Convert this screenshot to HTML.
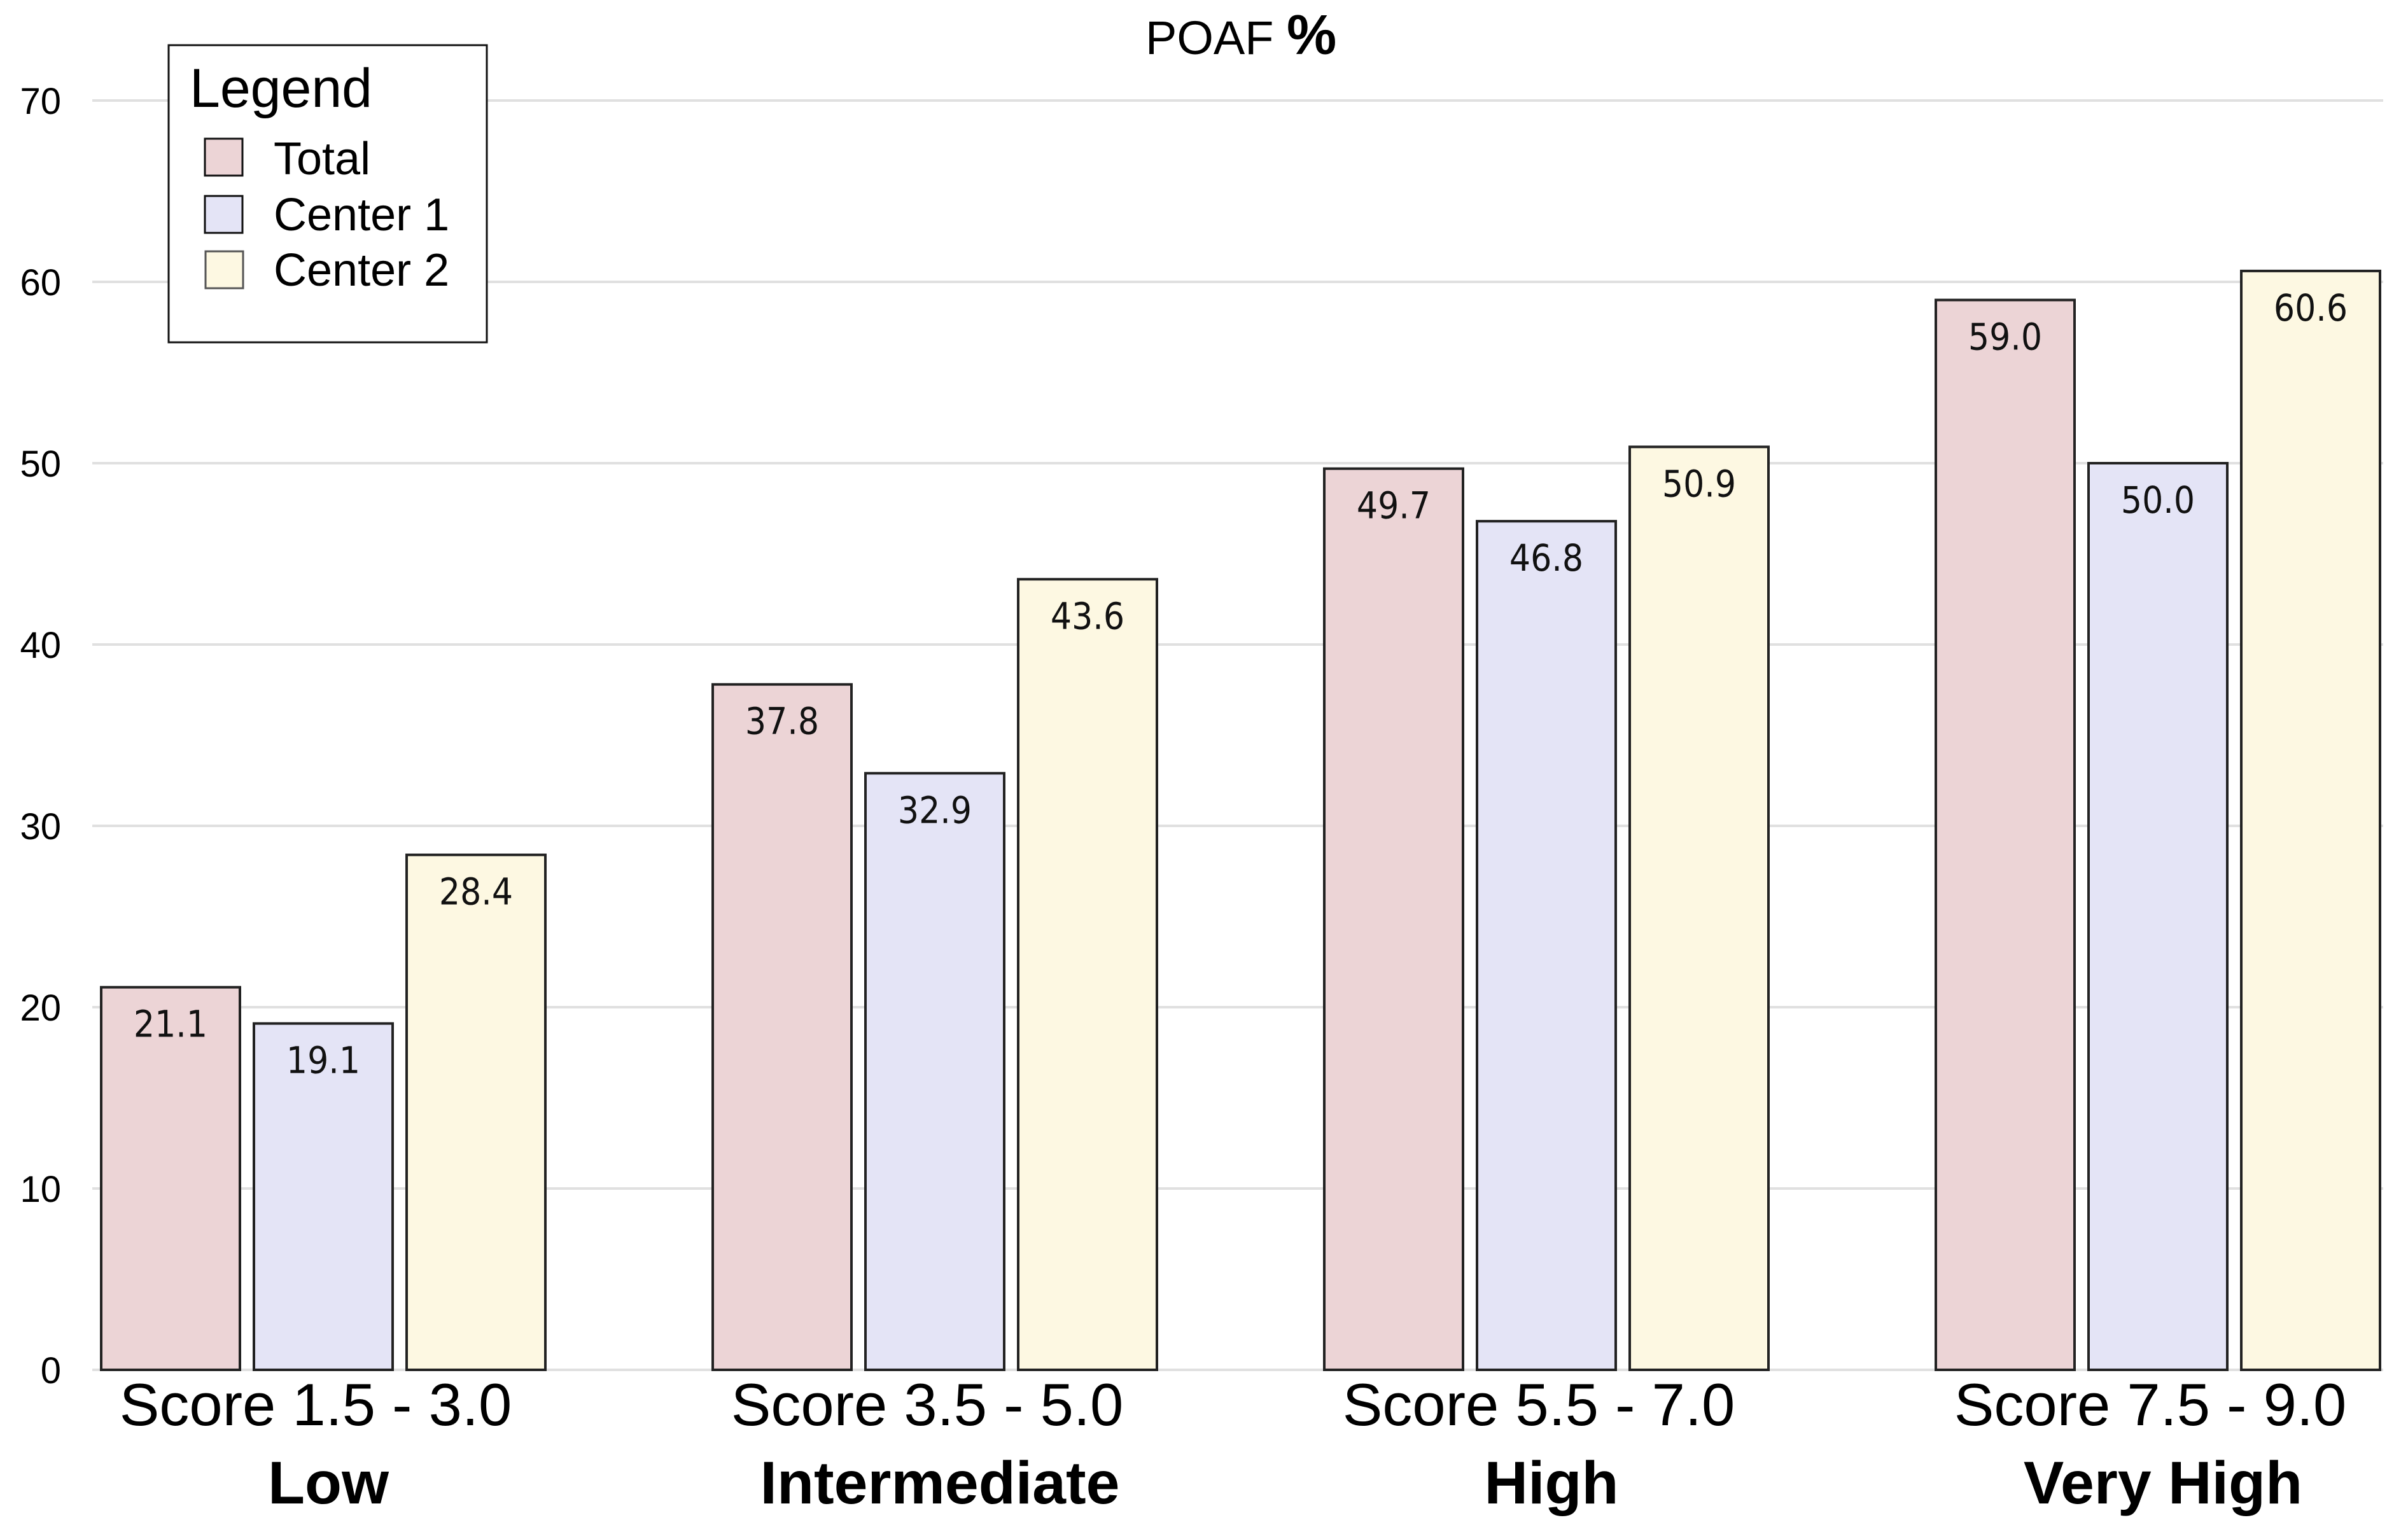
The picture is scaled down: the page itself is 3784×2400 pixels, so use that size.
<!DOCTYPE html>
<html><head><meta charset="utf-8"><style>
html,body{margin:0;padding:0;background:#fff;}
svg{display:block;}
</style></head><body>
<svg id="chart" width="3784" height="2400" viewBox="0 0 3784 2400" xmlns="http://www.w3.org/2000/svg" font-family="Liberation Sans, Arial, sans-serif">
<text x="1800" y="85" font-size="74" fill="#000">POAF <tspan font-weight="bold" font-size="88">%</tspan></text>
<g id="grid"></g>
<g id="yticks"></g>
<g id="bars"></g>
<g id="xlabels"></g>
<g>
  <rect x="265" y="71" width="500" height="467" fill="#fff" stroke="#111" stroke-width="3"/>
  <text x="298" y="168" font-size="86" fill="#000">Legend</text>
  <rect x="322" y="218" width="59" height="58" fill="#ecd4d6" stroke="#111" stroke-width="3"/>
  <text x="430" y="274" font-size="72" fill="#000">Total</text>
  <rect x="322" y="308" width="59" height="58" fill="#e4e4f6" stroke="#111" stroke-width="3"/>
  <text x="430" y="362" font-size="72" fill="#000">Center 1</text>
  <rect x="323" y="395" width="59" height="58" fill="#fdf8e2" stroke="#555" stroke-width="3"/>
  <text x="430" y="449" font-size="72" fill="#000">Center 2</text>
</g>
</svg>
<script>
const categories = ["Score 1.5 - 3.0","Score 3.5 - 5.0","Score 5.5 - 7.0","Score 7.5 - 9.0"];
const riskLabels = ["Low","Intermediate","High","Very High"];
const seriesNames = ["Total","Center 1","Center 2"];
const totalValues = [21.1, 37.8, 49.7, 59.0];
const center1Values = [19.1, 32.9, 46.8, 50.0];
const center2Values = [28.4, 43.6, 50.9, 60.6];
const yTicks = [0,10,20,30,40,50,60,70];

const NS = "http://www.w3.org/2000/svg";
const y0 = 2153, unit = 28.5;
function yScale(v){ return y0 - v*unit; }
const groupStart = 159, groupPitch = 961, barW = 218, barStep = 240;
function xScale(gi, si){ return groupStart + gi*groupPitch + si*barStep; }
const fills = ["#ecd4d6","#e4e4f6","#fdf8e2"];
const seriesData = [totalValues, center1Values, center2Values];

function mk(tag, attrs, parent){
  const e = document.createElementNS(NS, tag);
  for (const k in attrs) e.setAttribute(k, attrs[k]);
  parent.appendChild(e);
  return e;
}
const grid = document.getElementById('grid');
const yt = document.getElementById('yticks');
yTicks.forEach(t => {
  const l = mk('line', {x1:145, x2:3745, y1:yScale(t), y2:yScale(t), stroke:'#e0e0e0', 'stroke-width':4}, grid);
  
  
  const tx = mk('text', {x:96, y:yScale(t)+21, 'text-anchor':'end', 'font-size':58, fill:'#000'}, yt);
  tx.textContent = t;
  
  
});
const bars = document.getElementById('bars');
seriesData.forEach((arr, si) => {
  arr.forEach((v, gi) => {
    const x = xScale(gi, si), y = yScale(v);
    const r = mk('rect', {x:x, y:y, width:barW, height:y0-y, fill:fills[si], stroke:'#222', 'stroke-width':4}, bars);
    
    
    const t = mk('text', {x:x+barW/2, y:y+78, 'text-anchor':'middle', 'font-size':58, fill:'#111', 'font-family':'DejaVu Sans Condensed, DejaVu Sans, sans-serif'}, bars);
    t.textContent = v.toFixed(1);
    
    
  });
});
const xl = document.getElementById('xlabels');
categories.forEach((c, gi) => {
  const cx = xScale(gi, 1) + barW/2 - 12;
  const t = mk('text', {x:cx, y:2240, 'text-anchor':'middle', 'font-size':94, fill:'#000'}, xl);
  t.textContent = c;
  
  
  const b = mk('text', {x:cx + 20, y:2363, 'text-anchor':'middle', 'font-size':95, 'font-weight':'bold', fill:'#000'}, xl);
  b.textContent = riskLabels[gi];
  
  
});
</script>
</body></html>
